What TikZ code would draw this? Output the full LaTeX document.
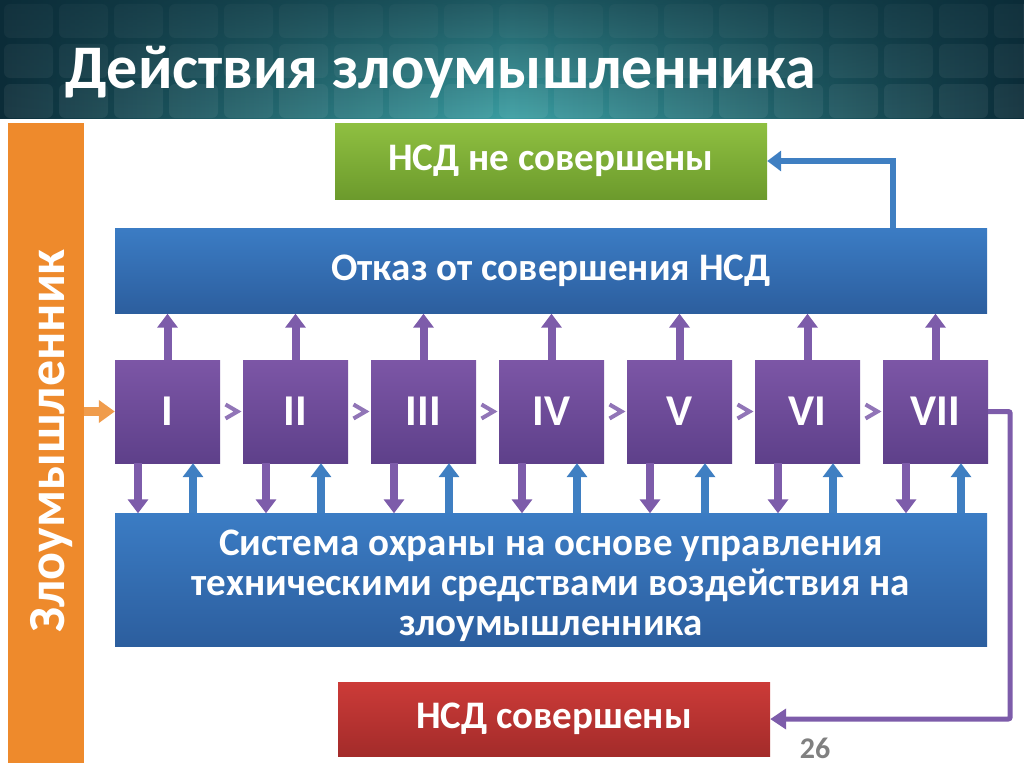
\documentclass[tikz,border=0pt]{standalone}
\usepackage{fontspec}
\setmainfont{Carlito}
\usetikzlibrary{arrows.meta, positioning, calc, fadings}

\definecolor{bannerdark}{HTML}{0B2C38}
\definecolor{bannerlight}{HTML}{3A9EA2}
\definecolor{barorange}{HTML}{EE8A2C}
\definecolor{stagetop}{HTML}{7C56A6}
\definecolor{stagebot}{HTML}{5E408A}
\definecolor{bluetop}{HTML}{3B7CC4}
\definecolor{bluebot}{HTML}{2C5E9E}
\definecolor{greentop}{HTML}{8FC041}
\definecolor{greenbot}{HTML}{6C9A2C}
\definecolor{redtop}{HTML}{CC3B38}
\definecolor{redbot}{HTML}{A32B2A}
\definecolor{linkpurple}{HTML}{7D5CAA}
\definecolor{linkblue}{HTML}{3F7FC2}

\tikzstyle{stage} = [rectangle, minimum width=105, minimum height=103, top color=stagetop, bottom color=stagebot, text=white, font=\fontsize{44}{44}\selectfont\bfseries]
\tikzstyle{bluebox} = [rectangle, minimum width=872, top color=bluetop, bottom color=bluebot, text=white, font=\fontsize{39}{40}\selectfont\bfseries, align=center]
\tikzstyle{greenbox} = [rectangle, minimum width=432, minimum height=76, top color=greentop, bottom color=greenbot, text=white, font=\fontsize{39}{39}\selectfont\bfseries]
\tikzstyle{redbox} = [rectangle, minimum width=432, minimum height=74, top color=redtop, bottom color=redbot, text=white, font=\fontsize{39}{39}\selectfont\bfseries]
\tikzstyle{uparrow} = [-{Triangle[width=20, length=14]}, line width=8, linkpurple]
\tikzstyle{downarrow} = [-{Triangle[width=20, length=14]}, line width=8, linkpurple]
\tikzstyle{backarrow} = [-{Triangle[width=20, length=14]}, line width=8, linkblue]
\tikzstyle{loop} = [-{Triangle[width=20, length=16]}, line width=5, linkpurple, rounded corners=2]
\tikzstyle{chevron} = [line width=4, linkpurple!85!white, line cap=butt]
\tikzstyle{tile} = [rounded corners=6, fill=white, opacity=0.07]

\begin{document}
\begin{tikzpicture}[x=1pt, y=-1pt]
    \useasboundingbox (0,0) rectangle (1024,768);

    % banner
    \shade[left color=bannerdark, right color=bannerdark, middle color=bannerlight] (0,0) rectangle (1024,118);
    \foreach \c in {0,...,18} {
        \foreach \r in {0,1,2} {
            \fill [tile] (4+55*\c, 4+40*\r) rectangle ++(49,34);
        }
    }
    \fill [bannerdark, path fading=south, opacity=0.6] (0,0) rectangle (1024,118);
    \node (title) [anchor=base west, text=white, font=\fontsize{62}{62}\selectfont\bfseries] at (62,88) {Действия злоумышленника};

    % attacker bar
    \node (attacker) [anchor=north west, fill=barorange, minimum width=76, minimum height=640] at (8,123) {};
    \node (attackertext) [rotate=90, text=white, font=\fontsize{52}{52}\selectfont\bfseries] at (52,441) {Злоумышленник};

    \node (notdone) [greenbox] at (551,161) {НСД не совершены};
    \node (refuse) [bluebox, minimum height=85] at (551,271) {Отказ от совершения НСД};
    \node (guard) [bluebox, minimum height=133] at (551,580) {\raisebox{-7pt}[\height][\depth]{\begin{tabular}{@{}c@{}}Система охраны на основе управления\\техническими средствами воздействия на\\злоумышленника\end{tabular}}};
    \node (done) [redbox] at (554,719) {НСД совершены};
    \node (page) [text=gray, font=\fontsize{30}{30}\selectfont\bfseries] at (815,748) {26};

    \foreach \n [count=\i from 0] in {I, II, III, IV, V, VI, VII} {
        \node (st\i) [stage] at (167.5+128*\i, 411.5) {\n};
        \draw [uparrow] (st\i.north) -- (st\i.north |- refuse.south);
        \draw [downarrow] ([xshift=-29.5]st\i.south) -- ([xshift=-29.5]st\i.south |- guard.north);
        \draw [backarrow] ([xshift=25.5]st\i.south |- guard.north) -- ([xshift=25.5]st\i.south);
    }

    \foreach \i [evaluate=\i as \j using int(\i+1)] in {0,...,5} {
        \coordinate (gap\i) at ($(st\i.east)!0.5!(st\j.west)$);
        \draw [chevron] ($(gap\i)+(-6,-7)$) -- ($(gap\i)+(6,0)$) -- ($(gap\i)+(-6,7)$);
    }

    \draw [-{Triangle[width=22, length=16]}, line width=9, barorange!85!white] (attacker.east |- st0.west) -- (st0.west);
    \draw [backarrow, line width=6] ([xshift=342]refuse.north) |- (notdone.east);
    \draw [loop] (st6.east) -- ++(22,0) |- (done.east);

\end{tikzpicture}
\end{document}
